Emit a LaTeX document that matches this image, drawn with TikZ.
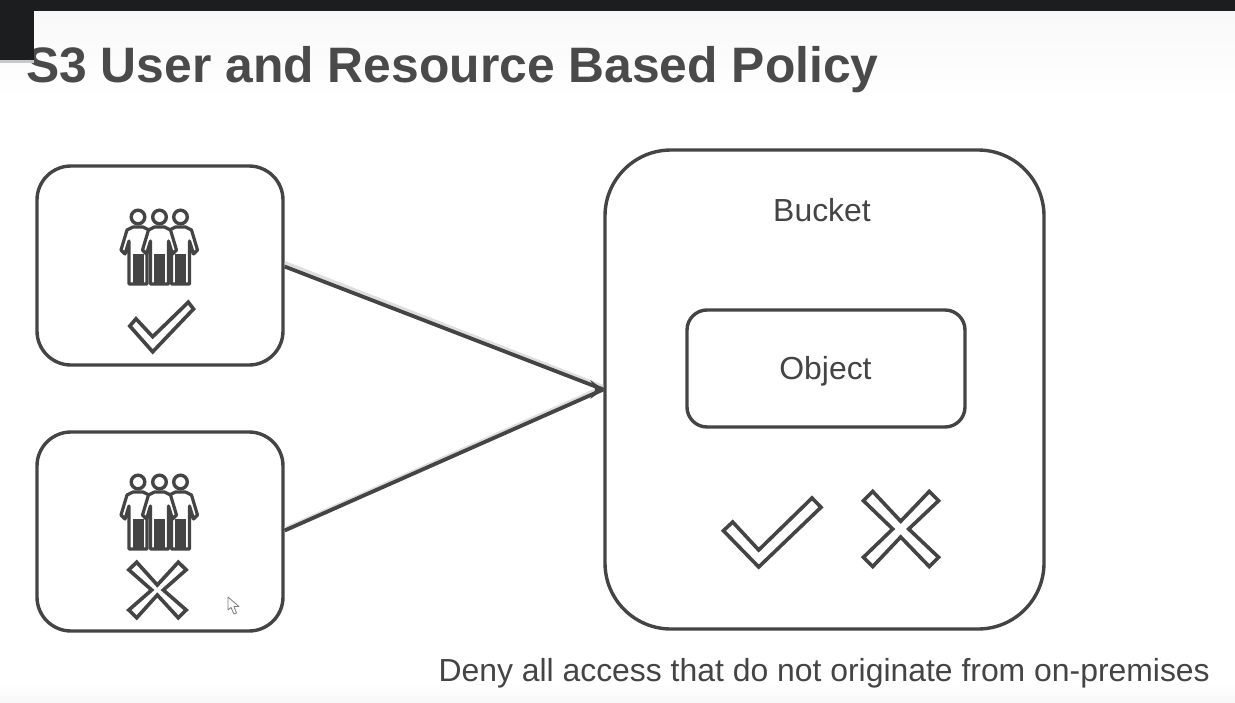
\documentclass[tikz,border=0pt]{standalone}
\usepackage{fontspec}
\setmainfont{Liberation Sans}
\usetikzlibrary{arrows.meta}
\definecolor{ink}{HTML}{444444}
\definecolor{title}{HTML}{4A4A4A}
\definecolor{barcol}{HTML}{1C1D1F}
\definecolor{bandcol}{HTML}{F8F8F8}
\definecolor{shadowcol}{HTML}{C8C8C8}
\tikzset{
  box/.style={draw=ink,line width=3.4pt,fill=white,rounded corners=#1,inner sep=0pt},
  lbl/.style={text=ink,font=\fontsize{31.9}{36}\selectfont,inner sep=0pt},
  mark outline/.style={draw=ink,line width=3.6pt,fill=white,miter limit=10},
  conn/.style={draw=ink,line width=3.8pt},
  connshadow/.style={draw=shadowcol,line width=3pt,opacity=.6},
  pics/person/.style={code={
    \draw[mark outline,line width=3.2pt,line join=round]
      (-5,10) -- (-11,13) -- (-17,33) -- (-13,37) -- (-9,24) -- (-9,67)
      -- (9,67) -- (9,24) -- (13,37) -- (17,33) -- (11,13) -- (5,10) -- cycle;
    \fill[ink] (-5.5,37) rectangle (5.5,67);
    \draw[mark outline,line width=3.4pt] (0,0) circle (6.8);
  }},
  pics/people/.style={code={
    \pic at (-21.5,0) {person};
    \pic at (21,0) {person};
    \pic at (0,0) {person};
  }}
}
\begin{document}
\begin{tikzpicture}[x=1pt,y=-1pt]
\useasboundingbox (0,0) rectangle (1235,702);
\fill[white] (0,0) rectangle (1235,702);
\shade[top color=bandcol,bottom color=white] (0,11) rectangle (1235,100);
\shade[top color=white,bottom color=bandcol] (0,684) rectangle (1235,702);
\fill[barcol] (0,0) rectangle (1235,10.5);
\node[anchor=base west,inner sep=0pt,text=title,font=\fontsize{49.8}{60}\selectfont\bfseries] (heading) at (26,82.5) {S3 User and Resource Based Policy};
\fill[shadowcol] (0,60) rectangle (34,63);
\fill[barcol] (0,0) rectangle (34,60);

\node[box=34pt,minimum width=246pt,minimum height=199pt] (users1) at (160,265.5) {};
\node[box=34pt,minimum width=246pt,minimum height=199pt] (users2) at (160,531.5) {};
\node[box=66pt,minimum width=439pt,minimum height=479pt] (bucket) at (824.5,389.5) {};
\node[box=20pt,minimum width=278pt,minimum height=117pt] (object) at (826,368.5) {};
\node[lbl] (bucketlabel) at (822,214.5) {\strut Bucket};
\node[lbl] (objectlabel) at (825.5,372.5) {\strut Object};
\node[lbl,anchor=base east] (note) at (1210,681) {Deny all access that do not originate from on-premises};

\draw[connshadow] ([yshift=3pt]users1.east) -- ([yshift=3pt]bucket.west);
\draw[connshadow] ([yshift=3pt]users2.east) -- ([yshift=3pt]bucket.west);
\draw[conn] (users1.east) ++(0,1) -- (bucket.west);
\draw[conn] (users2.east) ++(0,-1) -- (bucket.west);
\fill[ink] (bucket.west) -- ++(-13,-9.5) -- ++(5,9.5) -- ++(-5,9.5) -- cycle;

\path (159.5,217) pic {people};
\path (159.5,482) pic {people};

% small check
\draw[mark outline] (129.8,326) -- (136,318.8) -- (152.7,336.7) -- (188.3,302.2) -- (193.5,309) -- (152.7,351.8) -- cycle;
% small cross
\draw[mark outline] (157.3,585) -- (178.3,562.2) -- (186.2,569.8) -- (163.3,590) -- (186.2,610) -- (178.3,617.8) -- (157.3,595) -- (136.7,617.8) -- (128.8,610) -- (151.7,590) -- (128.8,569.8) -- (136.7,562.2) -- cycle;
% big check
\draw[mark outline] (723.4,530.7) -- (732.7,522) -- (758.7,550) -- (812,498) -- (821,507.3) -- (758.7,567) -- cycle;
% big cross
\draw[mark outline] (900.7,521.3) -- (929.3,491.4) -- (938.6,500.7) -- (908.7,529) -- (938.6,557.3) -- (929.3,566.6) -- (900.7,537) -- (872.7,566.6) -- (863.4,557.3) -- (892.7,529) -- (863.4,500.7) -- (872.7,491.4) -- cycle;
% mouse pointer
\draw[draw=ink!70,fill=white,line width=.8pt,line join=round] (228,597) -- (228,610) -- (231,607.5) -- (234,614) -- (236.5,613) -- (234,606.5) -- (239,606.5) -- cycle;
\end{tikzpicture}
\end{document}
